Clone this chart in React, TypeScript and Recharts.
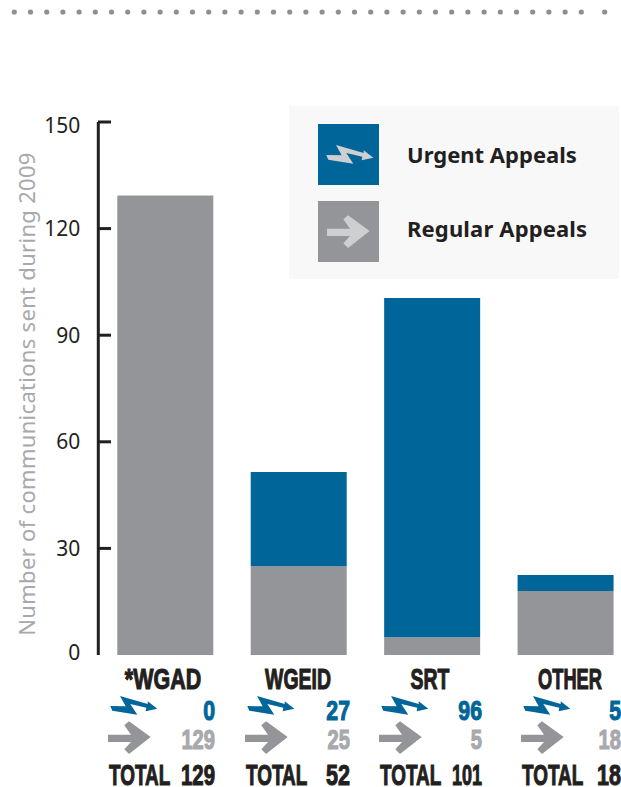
import { BarChart, Bar, XAxis, YAxis, Legend } from 'recharts';

const categories = ['*WGAD', 'WGEID', 'SRT', 'OTHER'];
// bar heights as drawn in the picture
const urgentBars = [0, 26.5, 95.5, 4.5];
const regularBars = [129.3, 25, 5, 18];
// figures printed under the bars
const urgentLabels = [0, 27, 96, 5];
const regularLabels = [129, 25, 5, 18];
const totalLabels = [129, 52, 101, 18];
const valueTicks = [0, 30, 60, 90, 120, 150];

const chartData = categories.map((name, i) => ({
  name,
  urgent: urgentBars[i],
  regular: regularBars[i],
}));

const BLUE = '#006699';
const GRAY = '#939598';
const LIGHT_GRAY = '#a7a9ac';
const DARK = '#231f20';
const ICON_LIGHT = '#cdcfd1';

const SANS = '"Noto Sans", sans-serif';
const HEAVY = '"Liberation Sans", sans-serif';

const BOLT = '10,0 37.7,8 37.7,5.3 47.3,12.7 35.7,15.3 36.3,11.7 20.3,8 27.3,18.7 2.3,14.7 0.3,10 15.7,10.3';
const ARROW = '0,13.7 23,13.7 16.3,4.3 21,0.3 42.7,16 21,33 16.3,28.3 23,21 0,21';

// label placement below the bars, one per column
const labelCenter = [163, 298, 430, 570];
const labelSqueeze = [0.74, 0.67, 0.67, 0.63];
const totalSqueeze = [0.68, 0.72, 0.6, 0.72];
const rowLeft = [109, 246, 380, 522];
const rowRight = [215, 350, 482, 621];
const tickLabelShift: Record<number, number> = { 150: 10.5, 0: 5 };

function ValueTick({ x, y, payload }: any) {
  const dy = tickLabelShift[payload.value] ?? 7.5;
  return (
    <g>
      {payload.value !== 0 && <line x1={98} x2={111} y1={y} y2={y} stroke={DARK} strokeWidth={3} />}
      <text x={x - 10} y={y + dy} textAnchor="end" fontFamily={SANS} fontSize={21} fill={DARK}>
        {payload.value}
      </text>
    </g>
  );
}

// the reference uses a heavy condensed face, squeezed here from a bold one
function heavyText(x: number, y: number, size: number, squeeze: number, fill: string, value: string | number, anchor: string) {
  return (
    <text
      transform={`translate(${x},${y}) scale(${squeeze},1)`}
      textAnchor={anchor as any}
      fontFamily={HEAVY}
      fontWeight={700}
      fontSize={size}
      fill={fill}
      stroke={fill}
      strokeWidth={1.1}
    >
      {value}
    </text>
  );
}

function CategoryTick({ index }: any) {
  const left = rowLeft[index];
  const right = rowRight[index];
  return (
    <g>
      {heavyText(labelCenter[index], 689, 29, labelSqueeze[index], DARK, categories[index], 'middle')}
      <polygon points={BOLT} fill={BLUE} transform={`translate(${left + 1},696)`} />
      {heavyText(right, 720, 28, 0.76, BLUE, urgentLabels[index], 'end')}
      <polygon points={ARROW} fill={GRAY} transform={`translate(${left - 1},721)`} />
      {heavyText(right, 749, 28, 0.72, LIGHT_GRAY, regularLabels[index], 'end')}
      {heavyText(left, 785, 30, 0.63, DARK, 'TOTAL', 'start')}
      {heavyText(right, 785, 30, totalSqueeze[index], DARK, totalLabels[index], 'end')}
    </g>
  );
}

function AppealsLegend() {
  return (
    <svg width={330} height={173} style={{ display: 'block' }}>
      <rect width={330} height={173} fill="#f8f8f8" />
      <rect x={29} y={18} width={61} height={61} fill={BLUE} />
      <polygon points={BOLT} fill={ICON_LIGHT} transform="translate(37,39)" />
      <text x={118} y={57} fontFamily={SANS} fontWeight={700} fontSize={22} fill={DARK}>
        Urgent Appeals
      </text>
      <rect x={29} y={95} width={61} height={61} fill={GRAY} />
      <polygon points={ARROW} fill={ICON_LIGHT} transform="translate(38,109)" />
      <text x={118} y={131} fontFamily={SANS} fontWeight={700} fontSize={22} letterSpacing={0.15} fill={DARK}>
        Regular Appeals
      </text>
    </svg>
  );
}

function DottedRule() {
  const dots = Array.from({ length: 36 }, (_, i) => 14.3 + i * 16.2);
  return (
    <svg width={621} height={30} style={{ position: 'absolute', left: 0, top: 0 }}>
      {dots.map((cx) => (
        <circle key={cx} cx={cx} cy={12} r={2.6} fill="#8f8f91" />
      ))}
      <circle cx={604.7} cy={12} r={2.6} fill="#8f8f91" />
    </svg>
  );
}

export default function App() {
  return (
    <div style={{ position: 'absolute', left: 0, top: 0, width: 621, height: 787, overflow: 'hidden', background: '#fff' }}>
      <DottedRule />
      <BarChart
        width={632}
        height={787}
        data={chartData}
        margin={{ top: 122, right: 0, bottom: 0, left: 0 }}
      >
        <XAxis dataKey="name" axisLine={false} tickLine={false} height={132} interval={0} tick={<CategoryTick />} />
        <YAxis
          width={98.3}
          domain={[0, 150]}
          ticks={valueTicks}
          interval={0}
          tickLine={false}
          axisLine={{ stroke: DARK, strokeWidth: 3 }}
          tick={<ValueTick />}
          label={() => (
            <text
              transform="translate(35,394) rotate(-90)"
              textAnchor="middle"
              fontFamily={SANS}
              fontSize={22}
              letterSpacing={0.3}
              fill={LIGHT_GRAY}
            >
              Number of communications sent during 2009
            </text>
          )}
        />
        <Legend
          layout="vertical"
          align="center"
          verticalAlign="middle"
          content={<AppealsLegend />}
          wrapperStyle={{ position: 'absolute', left: 289, top: 106, width: 330, height: 173 }}
        />
        <Bar dataKey="regular" name="Regular Appeals" stackId="a" fill={GRAY} barSize={96} isAnimationActive={false} />
        <Bar dataKey="urgent" name="Urgent Appeals" stackId="a" fill={BLUE} barSize={96} isAnimationActive={false} />
      </BarChart>
    </div>
  );
}
